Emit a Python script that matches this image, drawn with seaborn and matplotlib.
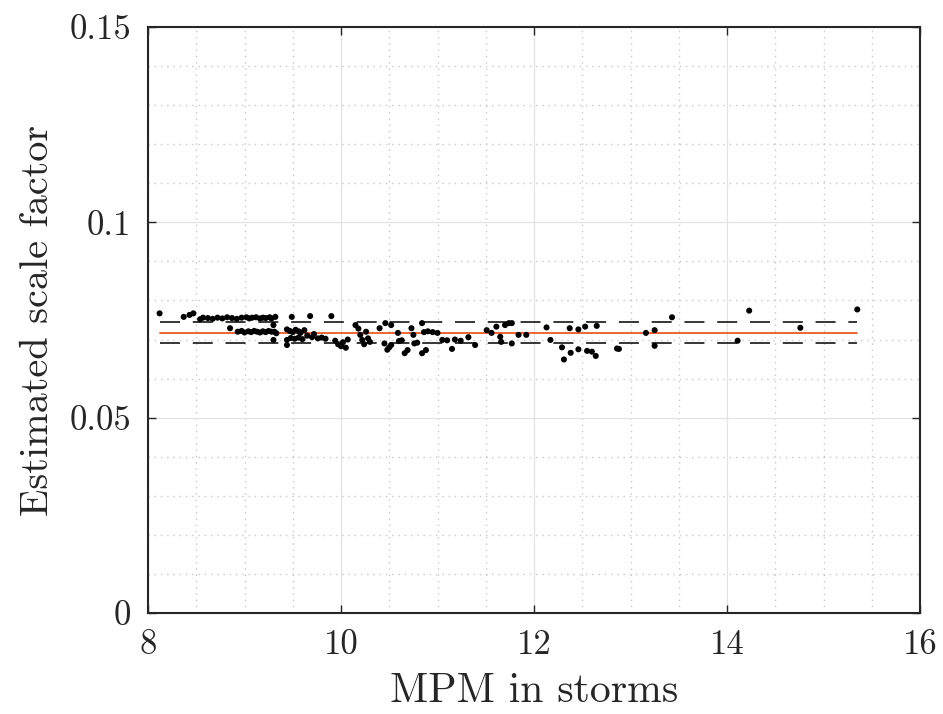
import numpy as np
import pandas as pd
import matplotlib
matplotlib.use("Agg")
import matplotlib.pyplot as plt
import seaborn as sns
from matplotlib.ticker import MultipleLocator, FixedLocator, FixedFormatter

# ---- data ----
mpm = [
    8.12, 8.37, 8.43, 8.47, 8.54, 8.57, 8.62, 8.67, 8.72, 8.77, 8.82, 8.87, 8.92, 8.97,
    9.02, 9.05, 9.08, 9.12, 9.16, 9.19, 9.22, 9.26, 9.28,
    8.85, 8.93, 8.97, 9.00, 9.04, 9.07, 9.10, 9.13, 9.16, 9.19, 9.22, 9.25, 9.28,
    9.30, 9.32, 9.31, 9.33, 9.30,
    9.49, 9.68, 9.90,
    9.44, 9.47, 9.50, 9.53, 9.56, 9.58, 9.62,
    9.44, 9.48, 9.52, 9.56, 9.60, 9.44,
    9.65, 9.70, 9.72, 9.76, 9.80, 9.84,
    9.94, 9.97, 10.00, 10.02, 10.05, 10.07,
    10.15, 10.18, 10.20, 10.22, 10.24, 10.26, 10.28, 10.30,
    10.40, 10.46, 10.45, 10.48, 10.50,
    10.52, 10.52, 10.59, 10.60, 10.63, 10.66, 10.69, 10.73, 10.75, 10.76, 10.79,
    10.84, 10.84, 10.88, 10.86, 10.90, 10.95, 11.00, 11.05, 11.10, 11.15, 11.18,
    11.24, 11.32, 11.39, 11.51, 11.56, 11.61, 11.65, 11.66, 11.70, 11.74, 11.77,
    11.77, 11.84, 11.92,
    12.13, 12.17, 12.29, 12.31, 12.37, 12.38, 12.46, 12.46, 12.53, 12.55, 12.60,
    12.64, 12.65, 12.86, 12.88,
    13.16, 13.25, 13.25, 13.43, 14.11, 14.23, 14.76, 15.35,
]
scale = [
    0.0767, 0.0758, 0.0763, 0.0767, 0.0752, 0.0756, 0.0755, 0.0753, 0.0756, 0.0754, 0.0757, 0.0755, 0.0753, 0.0756,
    0.0757, 0.0754, 0.0756, 0.0757, 0.0754, 0.0756, 0.0755, 0.0757, 0.0754,
    0.0729, 0.0720, 0.0722, 0.0718, 0.0721, 0.0719, 0.0722, 0.0720, 0.0718, 0.0721, 0.0719, 0.0722, 0.0720,
    0.0737, 0.0758, 0.0720, 0.0716, 0.0699,
    0.0758, 0.0760, 0.0760,
    0.0726, 0.0722, 0.0719, 0.0725, 0.0721, 0.0717, 0.0724,
    0.0699, 0.0704, 0.0702, 0.0705, 0.0701, 0.0686,
    0.0710, 0.0706, 0.0714, 0.0703, 0.0705, 0.0702,
    0.0697, 0.0688, 0.0683, 0.0693, 0.0679, 0.0700,
    0.0737, 0.0728, 0.0712, 0.0699, 0.0688, 0.0720, 0.0703, 0.0694,
    0.0729, 0.0742, 0.0690, 0.0674, 0.0680,
    0.0737, 0.0686, 0.0717, 0.0696, 0.0698, 0.0665, 0.0673, 0.0729, 0.0712, 0.0690, 0.0692,
    0.0742, 0.0665, 0.0673, 0.0719, 0.0721, 0.0719, 0.0717, 0.0699, 0.0698, 0.0676, 0.0700,
    0.0697, 0.0706, 0.0686, 0.0724, 0.0717, 0.0733, 0.0707, 0.0694, 0.0737, 0.0742, 0.0742,
    0.0690, 0.0712, 0.0712,
    0.0731, 0.0699, 0.0680, 0.0649, 0.0729, 0.0666, 0.0726, 0.0675, 0.0733, 0.0671, 0.0669,
    0.0658, 0.0735, 0.0677, 0.0676,
    0.0717, 0.0724, 0.0684, 0.0757, 0.0697, 0.0774, 0.0730, 0.0777,
]
fit_x = [8.12, 15.35]
fit_mean = [0.07175, 0.07175]
fit_upper = [0.07456, 0.07456]
fit_lower = [0.06902, 0.06902]
xticks = [8, 10, 12, 14, 16]
xticklabels = ["8", "10", "12", "14", "16"]
yticks = [0, 0.05, 0.1, 0.15]
yticklabels = ["0", "0.05", "0.1", "0.15"]

sns.set_theme(style="white")
plt.rcParams["font.family"] = ["cmr10", "DejaVu Serif"]
plt.rcParams["mathtext.fontset"] = "cm"
plt.rcParams["axes.formatter.use_mathtext"] = True
plt.rcParams["lines.scale_dashes"] = False

fig = plt.figure(figsize=(9.43, 7.14), dpi=100)
ax = fig.add_axes([148/943, 1-613/714, (920-148)/943, (613-27)/714])

df = pd.DataFrame({"mpm": mpm, "scale": scale})
lines = pd.DataFrame({
    "x": fit_x * 3,
    "y": fit_mean + fit_upper + fit_lower,
    "kind": ["mean"] * 2 + ["upper"] * 2 + ["lower"] * 2,
})

sns.lineplot(data=lines[lines.kind == "upper"], x="x", y="y", ax=ax, color="black",
             linewidth=1.1, linestyle=(0, (14.4, 9.2)), zorder=3)
sns.lineplot(data=lines[lines.kind == "lower"], x="x", y="y", ax=ax, color="black",
             linewidth=1.1, linestyle=(0, (14.4, 9.2)), zorder=3)
sns.lineplot(data=lines[lines.kind == "mean"], x="x", y="y", ax=ax, color="#EE5A24",
             linewidth=1.3, zorder=4)
sns.scatterplot(data=df, x="mpm", y="scale", ax=ax, color="black", s=19,
                edgecolor="none", linewidth=0, zorder=5)

ax.set_xlim(8, 16)
ax.set_ylim(0, 0.15)
ax.xaxis.set_major_locator(FixedLocator(xticks))
ax.xaxis.set_major_formatter(FixedFormatter(xticklabels))
ax.yaxis.set_major_locator(FixedLocator(yticks))
ax.yaxis.set_major_formatter(FixedFormatter(yticklabels))
ax.xaxis.set_minor_locator(MultipleLocator(0.5))
ax.yaxis.set_minor_locator(MultipleLocator(0.01))

ax.grid(True, which="major", color="#e3e3e3", linewidth=0.9, linestyle="-", zorder=0)
ax.grid(True, which="minor", color="#c8c8c8", linewidth=1.0, linestyle=(0, (1, 3.5)), zorder=0)
ax.set_axisbelow(True)

for sp in ax.spines.values():
    sp.set_visible(True)
    sp.set_color("#262626")
    sp.set_linewidth(1.5)

ax.tick_params(which="major", direction="in", length=6, width=1.0, color="#262626",
               top=True, right=True, bottom=True, left=True, labelsize=25, pad=12,
               labelcolor="#262626")
ax.tick_params(which="minor", length=0)

ax.set_xlabel("MPM in storms", fontsize=30, color="#262626", labelpad=8)
ax.set_ylabel("Estimated scale factor", fontsize=29, color="#262626", labelpad=10)

fig.savefig("out.png", dpi=100)
